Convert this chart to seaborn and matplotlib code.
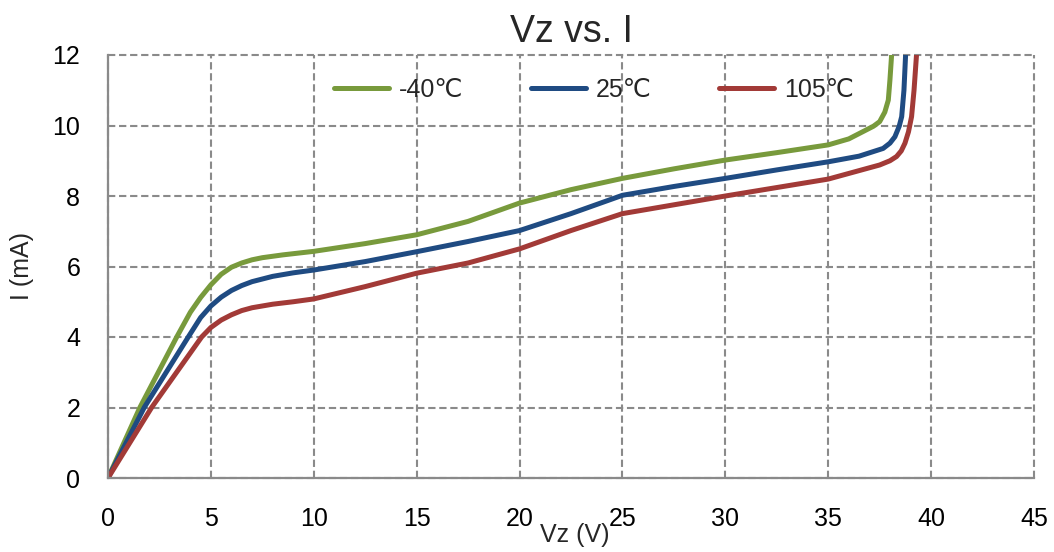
import matplotlib
matplotlib.use("Agg")
import matplotlib.pyplot as plt
import pandas as pd
import seaborn as sns
from matplotlib.lines import Line2D

# Zener voltage vs. current at three temperatures
temps = ["-40℃", "25℃", "105℃"]
colors = ["#789A3C", "#1F4B82", "#A23A37"]

vz_cold = [0, 1.55, 3.34, 4.0, 4.5, 5.0, 5.5, 6.0, 6.5, 7.0, 7.5, 8.5, 10, 12.5, 15, 17.5,
           20, 22.5, 25, 27.5, 30, 32.5, 35, 36.0, 36.7, 37.2, 37.5, 37.75, 37.92, 38.0, 38.08]
i_cold = [0, 2.0, 4.0, 4.7, 5.12, 5.48, 5.78, 5.98, 6.1, 6.19, 6.25, 6.33, 6.43, 6.65, 6.9,
          7.28, 7.8, 8.18, 8.5, 8.77, 9.02, 9.23, 9.45, 9.62, 9.83, 9.98, 10.11, 10.38,
          10.72, 11.3, 12.0]

vz_room = [0, 1.76, 3.9, 4.5, 5, 5.5, 6, 6.5, 7, 8, 9, 10, 12.5, 15, 17.5, 20, 22.5, 25,
           27.5, 30, 32.5, 35, 36.5, 37.67, 38.0, 38.24, 38.45, 38.57, 38.68, 38.76]
i_room = [0, 2.0, 4.0, 4.55, 4.88, 5.13, 5.32, 5.46, 5.57, 5.72, 5.82, 5.9, 6.14, 6.42,
          6.71, 7.02, 7.5, 8.02, 8.27, 8.5, 8.74, 8.97, 9.13, 9.35, 9.5, 9.68, 9.98,
          10.25, 11.0, 12.0]

vz_hot = [0, 2.12, 4.55, 5, 5.5, 6, 6.5, 7, 8, 9, 10, 12.5, 15, 17.5, 20, 22.5, 25, 27.5,
          30, 32.5, 35, 37.5, 38.0, 38.32, 38.55, 38.73, 38.9, 39.05, 39.17, 39.29]
i_hot = [0, 2.0, 4.0, 4.27, 4.48, 4.63, 4.75, 4.83, 4.93, 5.0, 5.08, 5.43, 5.81, 6.1,
         6.5, 7.02, 7.5, 7.75, 8.0, 8.24, 8.48, 8.88, 9.0, 9.12, 9.28, 9.5, 9.82, 10.25,
         11.0, 12.0]

x_ticks = list(range(0, 46, 5))
y_ticks = list(range(0, 13, 2))

df = pd.concat([
    pd.DataFrame({"Vz": vz_cold, "I": i_cold, "temp": temps[0]}),
    pd.DataFrame({"Vz": vz_room, "I": i_room, "temp": temps[1]}),
    pd.DataFrame({"Vz": vz_hot, "I": i_hot, "temp": temps[2]}),
], ignore_index=True)

sns.set_theme(style="white")
plt.rcParams["font.family"] = ["Liberation Sans", "DejaVu Sans"]

W, H = 1054, 552
fig = plt.figure(figsize=(W / 100, H / 100), dpi=100)
ax = fig.add_axes([108 / W, 1 - 478 / H, 926 / W, 423 / H])

palette = dict(zip(temps, colors))
sns.lineplot(data=df, x="Vz", y="I", hue="temp", hue_order=temps, palette=palette,
             sort=False, estimator=None, lw=3.6, legend=False, ax=ax,
             solid_joinstyle="round", solid_capstyle="round")

ax.set_xlim(0, 45)
ax.set_ylim(0, 12)
ax.set_xticks(x_ticks)
ax.set_yticks(y_ticks)
ax.set_xlabel("")
ax.set_ylabel("")
ax.tick_params(axis="both", length=0, labelsize=18, colors="black")
ax.tick_params(axis="x", pad=21)
ax.tick_params(axis="y", pad=20)

grid_style = dict(color="#8a8a8a", linestyle=(0, (3.5, 1.8)), linewidth=1.5)
ax.grid(True, **grid_style)
ax.set_axisbelow(True)
for gl in ax.get_xgridlines() + ax.get_ygridlines():
    gl.set_clip_on(False)

for side in ("top", "right"):
    ax.spines[side].set_visible(False)
for side in ("left", "bottom"):
    ax.spines[side].set_color("#8a8a8a")
    ax.spines[side].set_linewidth(1.6)
    ax.spines[side].set_zorder(3)

fig.text(571 / W, 1 - 42 / H, "Vz vs. I", ha="center", va="baseline", fontsize=27)
fig.text(575 / W, 1 - 535 / H, "Vz (V)", ha="center", va="center", fontsize=18)
fig.text(22 / W, 1 - 266 / H, "I (mA)", ha="center", va="center", rotation=90, fontsize=18)

handles = [Line2D([], [], color=c, lw=3.6, solid_capstyle="round") for c in colors]
ax.legend(handles, temps, loc="center", bbox_to_anchor=(594 / W, 1 - 90 / H),
          bbox_transform=fig.transFigure, ncol=3, frameon=False, fontsize=18,
          handlelength=2.2, handletextpad=0.4, columnspacing=2.7)

fig.savefig("out.png", dpi=100, facecolor="white")
